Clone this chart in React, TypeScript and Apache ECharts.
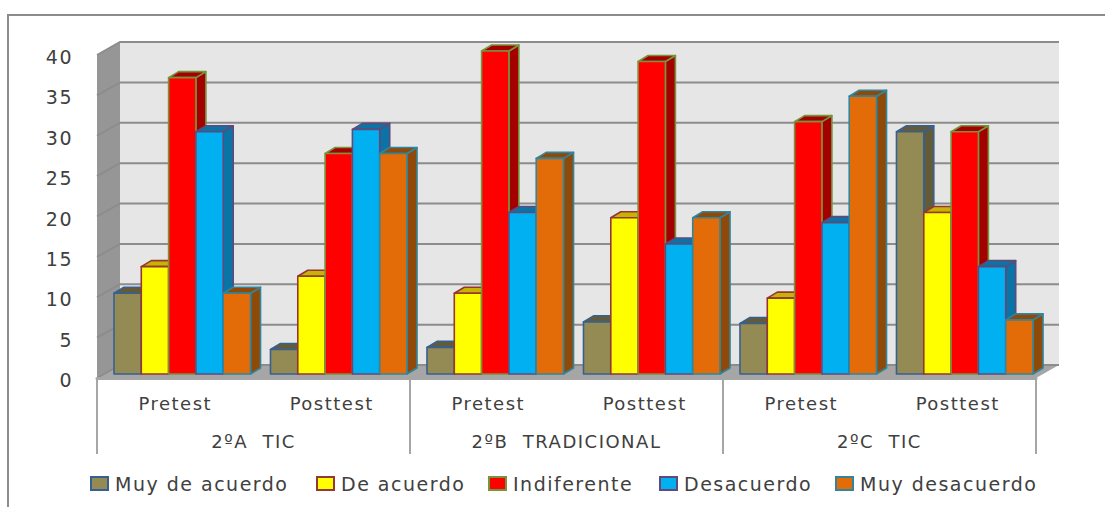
import React, { useEffect, useRef } from "react";
import * as echarts from "echarts";

const sessions = ["Pretest", "Posttest", "Pretest", "Posttest", "Pretest", "Posttest"];
const groups = ["2ºA  TIC", "2ºB  TRADICIONAL", "2ºC  TIC"];
const yTicks = [0, 5, 10, 15, 20, 25, 30, 35, 40];
const muyDeAcuerdo = [10, 3.03, 3.3, 6.45, 6.25, 30];
const deAcuerdo = [13.3, 12.1, 10, 19.35, 9.4, 20];
const indiferente = [36.7, 27.3, 40, 38.7, 31.25, 30];
const desacuerdo = [30, 30.3, 20, 16.1, 18.75, 13.3];
const muyDesacuerdo = [10, 27.3, 26.7, 19.35, 34.4, 6.7];

const names = ["Muy de acuerdo", "De acuerdo", "Indiferente", "Desacuerdo", "Muy desacuerdo"];
const values = [muyDeAcuerdo, deAcuerdo, indiferente, desacuerdo, muyDesacuerdo];
const fronts = ["#948A54", "#FFFF00", "#FF0000", "#00B0F0", "#E36C09"];
const shades = ["#635B38", "#C8B400", "#A50000", "#0A74A6", "#8F4A0A"];
const borders = ["#376092", "#953735", "#77933C", "#604A7B", "#31859C"];
const legendLefts = [90, 316, 488, 659, 835];

const TEXT = "#404040";
const FONT = "DejaVu Sans";
const WALL_DX = 23;
const WALL_DY = 13;
const BAR_SHIFT_X = 7;
const BAR_SHIFT_Y = 4;
const BAR_DX = 10;
const BAR_DY = 6;
const BAR_RATIO = 0.1745;

function renderWalls(params: any, api: any) {
  const cs = params.coordSys;
  const l = cs.x;
  const r = cs.x + cs.width;
  const y0 = api.coord([0, 0])[1];
  const yMax = api.coord([0, 40])[1];
  const children: any[] = [
    {
      type: "rect",
      shape: { x: l + WALL_DX, y: yMax - WALL_DY, width: cs.width, height: y0 - yMax },
      style: { fill: "#E6E6E6" },
    },
    {
      type: "polygon",
      shape: {
        points: [
          [l, yMax],
          [l + WALL_DX, yMax - WALL_DY],
          [l + WALL_DX, y0 - WALL_DY],
          [l, y0],
        ],
      },
      style: { fill: "#969696" },
    },
    {
      type: "polygon",
      shape: {
        points: [
          [l, y0],
          [l + WALL_DX, y0 - WALL_DY],
          [r + WALL_DX, y0 - WALL_DY],
          [r, y0],
        ],
      },
      style: { fill: "#A6A6A6" },
    },
  ];
  yTicks.forEach((t) => {
    const y = api.coord([0, t])[1];
    children.push({
      type: "polyline",
      shape: {
        points: [
          [l, y],
          [l + WALL_DX, y - WALL_DY],
          [r + WALL_DX, y - WALL_DY],
        ],
      },
      style: { fill: "none", stroke: "#8C8C8C", lineWidth: 2 },
    });
  });
  return { type: "group", children };
}

function makeBarRenderer(idx: number) {
  return (_params: any, api: any) => {
    const cat = api.value(0);
    const top = api.coord([cat, api.value(1)]);
    const base = api.coord([cat, 0]);
    const band = api.size([1, 0])[0];
    const w = band * BAR_RATIO;
    const x = top[0] + (idx - 2.5) * w + BAR_SHIFT_X;
    const yt = top[1] - BAR_SHIFT_Y;
    const yb = base[1] - BAR_SHIFT_Y;
    const style = { stroke: borders[idx], lineWidth: 1.6, lineJoin: "round" };
    return {
      type: "group",
      children: [
        {
          type: "polygon",
          shape: {
            points: [
              [x + w, yt],
              [x + w + BAR_DX, yt - BAR_DY],
              [x + w + BAR_DX, yb - BAR_DY],
              [x + w, yb],
            ],
          },
          style: { ...style, fill: shades[idx] },
        },
        {
          type: "polygon",
          shape: {
            points: [
              [x, yt],
              [x + BAR_DX, yt - BAR_DY],
              [x + w + BAR_DX, yt - BAR_DY],
              [x + w, yt],
            ],
          },
          style: { ...style, fill: shades[idx] },
        },
        {
          type: "rect",
          shape: { x, y: yt, width: w, height: yb - yt },
          style: { ...style, fill: fronts[idx] },
        },
      ],
    };
  };
}

export default function App() {
  const ref = useRef<HTMLDivElement>(null);
  useEffect(() => {
    document.body.style.margin = "0";
    const chart = echarts.init(ref.current!, undefined, { renderer: "svg" });
    chart.setOption({
      animation: false,
      backgroundColor: "#FFFFFF",
      textStyle: { fontFamily: FONT },
      grid: { left: 97, top: 55, width: 939, height: 323, containLabel: false },
      graphic: [
        {
          type: "polyline",
          shape: { points: [[8, 507], [8, 15], [1105, 15]] },
          style: { fill: "none", stroke: "#8C8C8C", lineWidth: 2 },
        },
      ],
      xAxis: [
        {
          type: "category",
          data: sessions,
          position: "bottom",
          axisLine: { show: true, lineStyle: { color: "#A6A6A6", width: 3 } },
          axisTick: { show: false },
          axisLabel: { color: TEXT, fontFamily: FONT, fontSize: 18, margin: 16, interval: 0 },
          splitLine: { show: false },
          z: 5,
        },
        {
          type: "category",
          data: groups,
          position: "bottom",
          axisLine: { show: false },
          axisTick: { show: true, length: 76, lineStyle: { color: "#A6A6A6", width: 2 } },
          axisLabel: { color: TEXT, fontFamily: FONT, fontSize: 18, margin: 54, interval: 0 },
          splitLine: { show: false },
        },
      ],
      yAxis: {
        type: "value",
        min: 0,
        max: 40,
        interval: 5,
        axisLine: { show: false },
        axisTick: { show: false },
        axisLabel: {
          color: TEXT,
          fontFamily: FONT,
          fontSize: 19,
          margin: 24,
          verticalAlign: "top",
          lineHeight: 4,
        },
        splitLine: { show: false },
      },
      legend: names.map((name, i) => ({
        left: legendLefts[i],
        top: 474,
        itemWidth: 17,
        itemHeight: 13,
        padding: 0,
        icon: "rect",
        textStyle: { color: TEXT, fontFamily: FONT, fontSize: 19, padding: [0, 0, 0, 2] },
        data: [
          {
            name,
            itemStyle: { color: fronts[i], borderColor: borders[i], borderWidth: 2 },
          },
        ],
      })),
      series: [
        {
          type: "custom",
          name: "walls",
          silent: true,
          z: 1,
          clip: false,
          xAxisIndex: 0,
          renderItem: renderWalls,
          data: [[0, 0]],
        },
        ...names.map((name, i) => ({
          type: "custom",
          name,
          z: 2,
          clip: false,
          xAxisIndex: 0,
          itemStyle: { color: fronts[i], borderColor: borders[i], borderWidth: 2 },
          renderItem: makeBarRenderer(i),
          encode: { x: 0, y: 1 },
          data: values[i].map((v, c) => [c, v]),
        })),
      ],
    });
    return () => chart.dispose();
  }, []);
  return (
    <>
      <style>{"svg text { letter-spacing: 1.5px; }"}</style>
      <div ref={ref} style={{ width: 1105, height: 507 }} />
    </>
  );
}
